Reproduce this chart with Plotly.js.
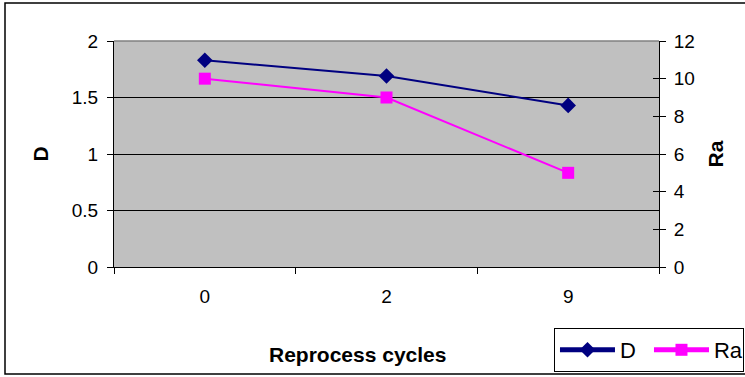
<!DOCTYPE html>
<html>
<head>
<meta charset="utf-8">
<script src="https://cdn.plot.ly/plotly-3.0.1.min.js"></script>
<style>html,body{margin:0;padding:0;background:#fff;}#chart{width:745px;height:377px;}</style>
</head>
<body>
<div id="chart"></div>
<script>
const cycles = ["0", "2", "9"];
const dValues = [1.83, 1.69, 1.43];
const raValues = [10, 9, 5];
const dTicks = [0, 0.5, 1, 1.5, 2];
const raTicks = [0, 2, 4, 6, 8, 10, 12];
const xTitle = "Reprocess cycles";

const font = "Liberation Sans, Arial, sans-serif";

const traces = [
  {
    x: cycles, y: dValues, name: "D", type: "scatter", mode: "lines+markers",
    line: {color: "#000080", width: 2},
    marker: {symbol: "diamond", size: 12, color: "#000080"},
    xaxis: "x", yaxis: "y"
  },
  {
    x: cycles, y: raValues, name: "Ra", type: "scatter", mode: "lines+markers",
    line: {color: "#FF00FF", width: 2},
    marker: {symbol: "square", size: 12, color: "#FF00FF"},
    xaxis: "x", yaxis: "y2"
  },
  {x: cycles, y: [null, null, null], yaxis: "y3", showlegend: false, hoverinfo: "skip", type: "scatter", mode: "lines"}
];

const layout = {
  width: 745, height: 377,
  margin: {l: 114, r: 86, t: 41, b: 110, pad: 0},
  paper_bgcolor: "#FFFFFF",
  plot_bgcolor: "#C0C0C0",
  font: {family: font, size: 19, color: "#000"},
  showlegend: true,
  legend: {
    orientation: "h", xref: "container", yref: "container",
    x: 0.7436, y: 0.13, xanchor: "left", yanchor: "top",
    bordercolor: "#000", borderwidth: 1, bgcolor: "#fff",
    font: {family: font, size: 22, color: "#000"},
    itemsizing: "constant", itemwidth: 55, entrywidth: 24
  },
  xaxis: {
    type: "category", categoryorder: "array", categoryarray: cycles,
    range: [-0.5, 2.5], tickson: "boundaries",
    ticks: "outside", ticklen: 6, tickcolor: "#000", tickwidth: 1,
    ticklabelstandoff: 12,
    showline: true, linecolor: "#000", linewidth: 1,
    showgrid: false, zeroline: false,
    tickfont: {size: 19},
    automargin: false
  },
  yaxis: {
    range: [0, 2], tickvals: dTicks, ticktext: dTicks.map(String),
    ticks: "outside", ticklen: 6, tickcolor: "#000",
    ticklabelstandoff: 5,
    showline: true, linecolor: "#000", linewidth: 1,
    showgrid: true, gridcolor: "#000", gridwidth: 1, zeroline: false,
    tickfont: {size: 19},
    title: {text: "D", font: {size: 21, family: font, weight: "bold"}, standoff: 17},
    automargin: false
  },
  yaxis2: {
    range: [0, 12], tickvals: raTicks, ticktext: raTicks.map(String),
    overlaying: "y", side: "right",
    ticks: "outside", ticklen: 6, tickcolor: "#000",
    ticklabelstandoff: 4,
    showline: true, linecolor: "#000", linewidth: 1,
    showgrid: false, zeroline: false,
    tickfont: {size: 19},
    title: {text: "Ra", font: {size: 21, family: font, weight: "bold"}, standoff: 14},
    automargin: false
  },
  yaxis3: {
    range: [0, 12], tickvals: raTicks, overlaying: "y", side: "right",
    ticks: "inside", ticklen: 6, tickcolor: "#000",
    showticklabels: false, showgrid: false, zeroline: false, showline: false
  },
  annotations: [
    {text: xTitle, xref: "paper", yref: "paper", x: 0.447, y: -0.389,
     xanchor: "center", yanchor: "middle", showarrow: false,
     font: {size: 21, family: font, weight: "bold", color: "#000"}}
  ],
  shapes: [
    {type: "line", xref: "paper", yref: "paper", x0: 0, x1: 1, y0: 1, y1: 1,
     line: {color: "#808080", width: 1.5}},
    {type: "rect", xref: "paper", yref: "paper", x0: -0.2, x1: 1.4, y0: -0.473, y1: 1.168,
     line: {color: "#000", width: 1.5}, layer: "below"}
  ]
};

Plotly.newPlot("chart", traces, layout, {staticPlot: true, displayModeBar: false});
</script>
</body>
</html>
